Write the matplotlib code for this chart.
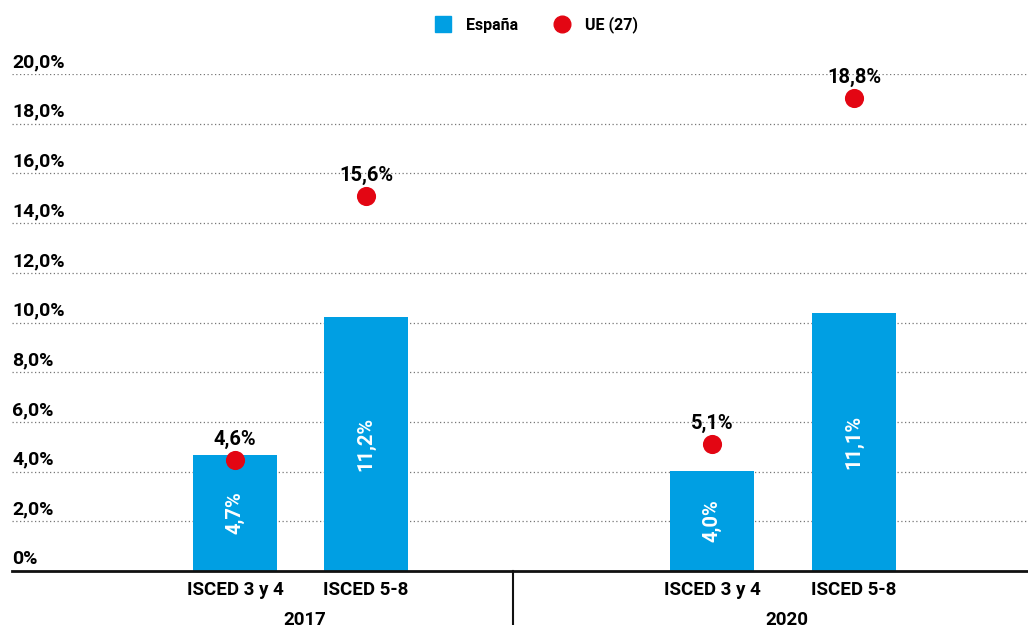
import numpy as np
import matplotlib
matplotlib.use('Agg')
import matplotlib.pyplot as plt
from matplotlib.lines import Line2D
import matplotlib.transforms as mtransforms

plt.rcParams['font.family'] = ['Roboto', 'DejaVu Sans']
plt.rcParams['font.weight'] = 'bold'

# --- data
years = ['2017', '2020']
categories = ['ISCED 3 y 4', 'ISCED 5-8']
espana = [4.67, 10.23, 4.02, 10.37]
espana_labels = ['4,7%', '11,2%', '4,0%', '11,1%']
ue = [4.47, 15.09, 5.11, 19.02]
ue_labels = ['4,6%', '15,6%', '5,1%', '18,8%']
yticks = [0, 2, 4, 6, 8, 10, 12, 14, 16, 18, 20]
ytick_labels = ['0%', '2,0%', '4,0%', '6,0%', '8,0%', '10,0%',
                '12,0%', '14,0%', '16,0%', '18,0%', '20,0%']

blue = '#009FE3'
red = '#E30613'

# layout (x in pixel-like units of the axes)
group_centers = [288.5, 771]
offsets = [65.5, 71]
bar_w = 84
sep = 501
x = []
for gc, off in zip(group_centers, offsets):
    x += [gc - off, gc + off]
x = np.array(x)

fig = plt.figure(figsize=(10.28, 6.25), dpi=100)
ax = fig.add_axes([12 / 1028, 54 / 625, 1016 / 1028, (571 - 74) / 625])
ax.set_xlim(0, 1016)
ax.set_ylim(0, 20)

# gridlines
for t in yticks[1:]:
    ax.axhline(t, color='#777777', lw=0.9, ls=(0, (1, 2)), zorder=1)

ax.bar(x, espana, width=bar_w, color=blue, zorder=2)
ax.scatter(x, ue, s=190, color=red, zorder=3, linewidths=0)

for xi, v, lab in zip(x, espana, espana_labels):
    ax.text(xi, v / 2, lab, rotation=90, ha='center', va='center',
            color='white', fontsize=14.5, fontweight='bold', zorder=4)

for xi, v, lab in zip(x, ue, ue_labels):
    ax.annotate(lab, (xi, v), xytext=(0, 8), textcoords='offset points',
                ha='center', va='bottom', fontsize=14.5, fontweight='bold',
                color='black', zorder=4)

# y labels sitting above gridlines
trans = mtransforms.blended_transform_factory(ax.transAxes, ax.transData)
for t, lab in zip(yticks, ytick_labels):
    ax.annotate(lab, (0, t), xycoords=trans, xytext=(0, 2),
                textcoords='offset points', ha='left', va='bottom',
                fontsize=14, fontweight='bold', color='black')

ax.set_xticks([])
ax.set_yticks([])
for s in ['top', 'right', 'left']:
    ax.spines[s].set_visible(False)
ax.spines['bottom'].set_linewidth(2)
ax.spines['bottom'].set_color('#111111')
ax.spines['bottom'].set_zorder(5)

# category and year labels below the axis
tb = mtransforms.blended_transform_factory(ax.transData, ax.transAxes)
for i, xi in enumerate(x):
    ax.text(xi, -0.02, categories[i % 2], transform=tb, ha='center', va='top',
            fontsize=13.5, fontweight='bold')
for gc, yr in zip(group_centers, years):
    ax.text(gc + 4, -0.08, yr, transform=tb, ha='center', va='top',
            fontsize=13.5, fontweight='bold')
ax.plot([sep, sep], [0, -0.2], transform=tb, color='#111111', lw=1.5,
        clip_on=False)

handles = [Line2D([], [], marker='s', ls='', color=blue, markersize=11),
           Line2D([], [], marker='o', ls='', color=red, markersize=12)]
fig.legend(handles, ['España', 'UE (27)'], loc='center', ncol=2,
           bbox_to_anchor=(0.518, 0.96), frameon=False, fontsize=11.5,
           handletextpad=0.4, columnspacing=1.8)

fig.savefig('out.png', dpi=100)
